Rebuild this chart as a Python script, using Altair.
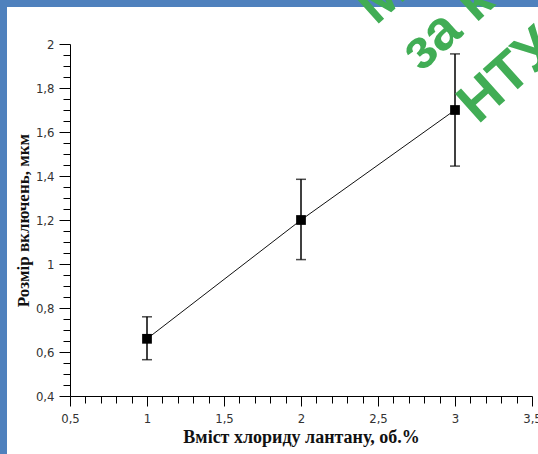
import altair as alt
import pandas as pd

# ---- data ----
content = [1, 2, 3]                 # вміст хлориду лантану, об.%
size_mean = [0.66, 1.20, 1.70]      # розмір включень, мкм
size_low = [0.565, 1.02, 1.445]
size_high = [0.76, 1.385, 1.955]

x_tick_values = [0.5, 0.6, 0.7, 0.8, 0.9, 1.0, 1.1, 1.2, 1.3, 1.4, 1.5, 1.6, 1.7, 1.8, 1.9,
                 2.0, 2.1, 2.2, 2.3, 2.4, 2.5, 2.6, 2.7, 2.8, 2.9, 3.0, 3.1, 3.2, 3.3, 3.4, 3.5]
y_tick_values = [0.4, 0.45, 0.5, 0.55, 0.6, 0.65, 0.7, 0.75, 0.8, 0.85, 0.9, 0.95, 1.0,
                 1.05, 1.1, 1.15, 1.2, 1.25, 1.3, 1.35, 1.4, 1.45, 1.5, 1.55, 1.6, 1.65,
                 1.7, 1.75, 1.8, 1.85, 1.9, 1.95, 2.0]

x_title = "Вміст хлориду лантану, об.%"
y_title = "Розмір включень, мкм"
watermark_lines = ["М", "за к", "НТУ"]

df = pd.DataFrame({"x": content, "y": size_mean, "lo": size_low, "hi": size_high})

W, H = 462, 352
LABEL_FONT = "DejaVu Sans Condensed, Noto Sans, DejaVu Sans"
TITLE_FONT = "Liberation Serif"

x_major = "abs(datum.value*2 - round(datum.value*2)) < 0.001"
y_major = "abs(datum.value*5 - round(datum.value*5)) < 0.001"

x_scale = alt.Scale(domain=[0.5, 3.5], nice=False, zero=False)
y_scale = alt.Scale(domain=[0.4, 2.0], nice=False, zero=False)

x_axis = alt.Axis(
    values=x_tick_values, tickCount=200,
    labelExpr=f"({x_major}) ? replace(toString(datum.value), '.', ',') : ''",
    tickSize={"condition": {"test": x_major, "value": 10}, "value": 7},
    labelOverlap=False, labelFlush=False, grid=False, zindex=1,
    domainColor="black", tickColor="black", tickWidth=1, domainWidth=1,
    labelFont=LABEL_FONT, labelFontSize=13, labelColor="#333333", labelPadding=6,
    title=x_title, titleFont=TITLE_FONT, titleFontWeight="bold", titleFontSize=18,
    titleColor="#111111", titlePadding=3,
)
y_axis = alt.Axis(
    values=y_tick_values, tickCount=200,
    labelExpr=f"({y_major}) ? replace(toString(datum.value), '.', ',') : ''",
    tickSize={"condition": {"test": y_major, "value": 11}, "value": 7},
    labelOverlap=False, labelFlush=False, grid=False, zindex=1,
    domainColor="black", tickColor="black", tickWidth=1, domainWidth=1,
    labelFont=LABEL_FONT, labelFontSize=13, labelColor="#333333", labelPadding=5,
    title=y_title, titleFont=TITLE_FONT, titleFontWeight="bold", titleFontSize=17,
    titleColor="#111111", titlePadding=3,
)

# white page inside the blue frame
page = alt.Chart(pd.DataFrame({"k": [0]})).mark_rect(color="white").encode(
    x=alt.value(-63), x2=alt.value(480), y=alt.value(-37), y2=alt.value(420)
)

base = alt.Chart(df)

line = base.mark_line(color="#111111", strokeWidth=1).encode(
    x=alt.X("x:Q", scale=x_scale, axis=x_axis),
    y=alt.Y("y:Q", scale=y_scale, axis=y_axis),
)
err = base.mark_rule(color="black", strokeWidth=1.5).encode(
    x="x:Q", y="lo:Q", y2="hi:Q"
)
cap_lo = base.mark_tick(color="black", orient="horizontal", size=10, thickness=1.5).encode(
    x="x:Q", y="lo:Q"
)
cap_hi = base.mark_tick(color="black", orient="horizontal", size=10, thickness=1.5).encode(
    x="x:Q", y="hi:Q"
)
points = base.mark_square(color="black", size=95, opacity=1, filled=True).encode(
    x="x:Q", y="y:Q"
)

wm_style = dict(angle=318, align="left", baseline="alphabetic", font="Liberation Sans",
                fontWeight="bold", fontSize=56, color="#41AD55")
wm_pos = [(306, -18), (351, 29), (408, 81)]
wm_layers = [
    alt.Chart(pd.DataFrame({"t": [t]})).mark_text(**wm_style).encode(
        x=alt.value(px), y=alt.value(py), text="t:N"
    )
    for t, (px, py) in zip(watermark_lines, wm_pos)
]

chart = alt.layer(page, line, err, cap_lo, cap_hi, points, *wm_layers).properties(
    width=W, height=H,
    autosize=alt.AutoSizeParams(type="none"),
    padding={"left": 70, "top": 44, "right": 6, "bottom": 58},
    background="#4F81BD",
).configure_view(stroke=None)

chart.save("out.html", embed_options={"renderer": "svg", "actions": False})
